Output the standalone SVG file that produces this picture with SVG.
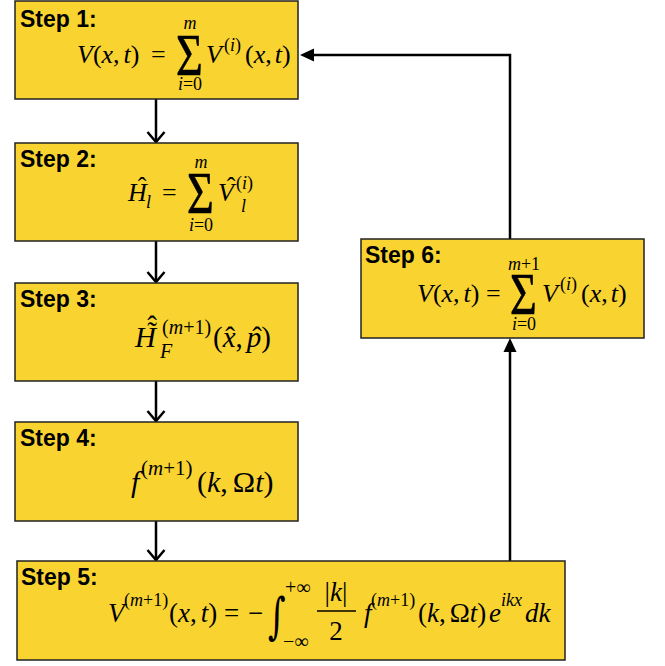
<svg xmlns="http://www.w3.org/2000/svg" width="665" height="666" viewBox="0 0 665 666">
  <defs>
    <style>
      .box { fill: #F9D431; stroke: #222; stroke-width: 1.5; }
      .lbl { font-family: "Liberation Sans", Arial, sans-serif; font-weight: bold; font-size: 23px; fill: #000; }
      .m { font-family: "Liberation Serif", "Times New Roman", serif; fill: #000; }
      .i { font-style: italic; }
      .sig { font-family: "Liberation Serif", "Times New Roman", serif; font-size: 46px; fill: #000; stroke: #000; stroke-width: 0.5; }
      .int { font-family: "DejaVu Serif", "Liberation Serif", serif; fill: #000; }
      .conn { fill: none; stroke: #000; stroke-width: 2.5; }
    </style>
    <marker id="openHead" viewBox="-12 -10 14 20" refX="0" refY="0" markerWidth="14" markerHeight="20" orient="auto" markerUnits="userSpaceOnUse">
      <path d="M-10,-8.5 L0,0 L-10,8.5" fill="none" stroke="#000" stroke-width="2.5"/>
    </marker>
    <marker id="solidHead" viewBox="0 -7 15 14" refX="2" refY="0" markerWidth="15" markerHeight="14" orient="auto" markerUnits="userSpaceOnUse">
      <path d="M0,-6.5 L14,0 L0,6.5 Z" fill="#000"/>
    </marker>
  </defs>

  <g id="connectors">
    <path class="conn" d="M156,99 V142" marker-end="url(#openHead)"/>
    <path class="conn" d="M156,241 V282" marker-end="url(#openHead)"/>
    <path class="conn" d="M156,381 V421" marker-end="url(#openHead)"/>
    <path class="conn" d="M156,521 V560" marker-end="url(#openHead)"/>
    <path class="conn" d="M510,561 V350" marker-end="url(#solidHead)"/>
    <path class="conn" d="M510,239 V55 H312" marker-end="url(#solidHead)"/>
  </g>

  <g id="step1">
    <rect class="box" x="15" y="1" width="283" height="98"/>
    <text class="lbl" x="20" y="27">Step 1:</text>
    <text class="m" x="77" y="63" font-size="26"><tspan class="i">V</tspan>(<tspan class="i">x</tspan>,<tspan dx="4" class="i">t</tspan>)</text>
    <text class="m" x="151" y="63" font-size="26">=</text>
    <text class="sig" transform="translate(176,75) scale(1,1.3)">Σ</text>
    <text class="m i" x="190" y="29" font-size="18" text-anchor="middle">m</text>
    <text class="m" x="190" y="90" font-size="18" text-anchor="middle"><tspan class="i">i</tspan>=0</text>
    <text class="m i" x="206" y="63" font-size="26">V</text>
    <text class="m" x="224" y="51" font-size="18">(<tspan class="i">i</tspan>)</text>
    <text class="m" x="245" y="63" font-size="26">(<tspan class="i">x</tspan>,<tspan dx="3" class="i">t</tspan>)</text>
  </g>

  <g id="step2">
    <rect class="box" x="15" y="143" width="283" height="98"/>
    <text class="lbl" x="20" y="167">Step 2:</text>
    <text class="m i" x="128" y="201" font-size="26">H</text>
    <text class="m" x="142" y="195" font-size="26" text-anchor="middle">ˆ</text>
    <text class="m i" x="146" y="208" font-size="18">l</text>
    <text class="m" x="162" y="201" font-size="26">=</text>
    <text class="sig" transform="translate(187,213) scale(1,1.3)">Σ</text>
    <text class="m i" x="201" y="168" font-size="18" text-anchor="middle">m</text>
    <text class="m" x="201" y="231" font-size="18" text-anchor="middle"><tspan class="i">i</tspan>=0</text>
    <text class="m i" x="218" y="201" font-size="26">V</text>
    <text class="m" x="231" y="195" font-size="26" text-anchor="middle">ˆ</text>
    <text class="m" x="236" y="189" font-size="18">(<tspan class="i">i</tspan>)</text>
    <text class="m i" x="241" y="212" font-size="18">l</text>
  </g>

  <g id="step3">
    <rect class="box" x="15" y="283" width="283" height="98"/>
    <text class="lbl" x="20" y="307">Step 3:</text>
    <text class="m i" x="135" y="347" font-size="29">H</text>
    <text class="m" x="152" y="342" font-size="29" text-anchor="middle">˜</text>
    <text class="m" x="152" y="336" font-size="29" text-anchor="middle">ˆ</text>
    <text class="m" x="162" y="334" font-size="20">(<tspan class="i">m</tspan>+1)</text>
    <text class="m i" x="160" y="358" font-size="20">F</text>
    <text class="m" x="213" y="347" font-size="29">(<tspan class="i">x</tspan>,<tspan dx="4" class="i">p</tspan>)</text>
    <text class="m" x="230" y="347" font-size="29" text-anchor="middle">ˆ</text>
    <text class="m" x="257" y="347" font-size="29" text-anchor="middle">ˆ</text>
  </g>

  <g id="step4">
    <rect class="box" x="15" y="422" width="283" height="99"/>
    <text class="lbl" x="20" y="446">Step 4:</text>
    <text class="m i" x="131" y="492" font-size="30">f</text>
    <text class="m" x="141" y="475" font-size="21">(<tspan class="i">m</tspan>+1)</text>
    <text class="m" x="197" y="492" font-size="30">(<tspan class="i">k</tspan>,<tspan dx="5">Ω</tspan><tspan class="i">t</tspan>)</text>
  </g>

  <g id="step5">
    <rect class="box" x="17" y="561" width="548" height="99"/>
    <text class="lbl" x="21" y="585">Step 5:</text>
    <text class="m i" x="108" y="622" font-size="27">V</text>
    <text class="m" x="124" y="606" font-size="18">(<tspan class="i">m</tspan>+1)</text>
    <text class="m" x="169" y="622" font-size="27">(<tspan class="i">x</tspan>,<tspan dx="4" class="i">t</tspan>)</text>
    <text class="m" x="224" y="622" font-size="27">=</text>
    <text class="m" x="248" y="622" font-size="27">−</text>
    <text class="int" transform="translate(268,633) scale(1,1.45)" font-size="34">∫</text>
    <text class="m" x="285" y="594" font-size="20">+∞</text>
    <text class="m" x="283" y="648" font-size="20">−∞</text>
    <line x1="317" y1="611" x2="356" y2="611" stroke="#000" stroke-width="1.3"/>
    <text class="m" x="336" y="601" font-size="27" text-anchor="middle">|<tspan class="i">k</tspan>|</text>
    <text class="m" x="336" y="640" font-size="27" text-anchor="middle">2</text>
    <text class="m i" x="364" y="622" font-size="27">f</text>
    <text class="m" x="371" y="606" font-size="18">(<tspan class="i">m</tspan>+1)</text>
    <text class="m" x="418" y="622" font-size="27">(<tspan class="i">k</tspan>,<tspan dx="4">Ω</tspan><tspan class="i">t</tspan>)</text>
    <text class="m i" x="489" y="622" font-size="27">e</text>
    <text class="m i" x="501" y="606" font-size="18">ikx</text>
    <text class="m i" x="525" y="622" font-size="27">dk</text>
  </g>

  <g id="step6">
    <rect class="box" x="361" y="239" width="283" height="99"/>
    <text class="lbl" x="365" y="263">Step 6:</text>
    <text class="m" x="417" y="302" font-size="26"><tspan class="i">V</tspan>(<tspan class="i">x</tspan>,<tspan dx="4" class="i">t</tspan>)</text>
    <text class="m" x="486" y="302" font-size="26">=</text>
    <text class="sig" transform="translate(510,314) scale(1,1.3)">Σ</text>
    <text class="m" x="524" y="270" font-size="18" text-anchor="middle"><tspan class="i">m</tspan>+1</text>
    <text class="m" x="524" y="330" font-size="18" text-anchor="middle"><tspan class="i">i</tspan>=0</text>
    <text class="m i" x="542" y="302" font-size="26">V</text>
    <text class="m" x="560" y="290" font-size="18">(<tspan class="i">i</tspan>)</text>
    <text class="m" x="581" y="302" font-size="26">(<tspan class="i">x</tspan>,<tspan dx="3" class="i">t</tspan>)</text>
  </g>
</svg>
